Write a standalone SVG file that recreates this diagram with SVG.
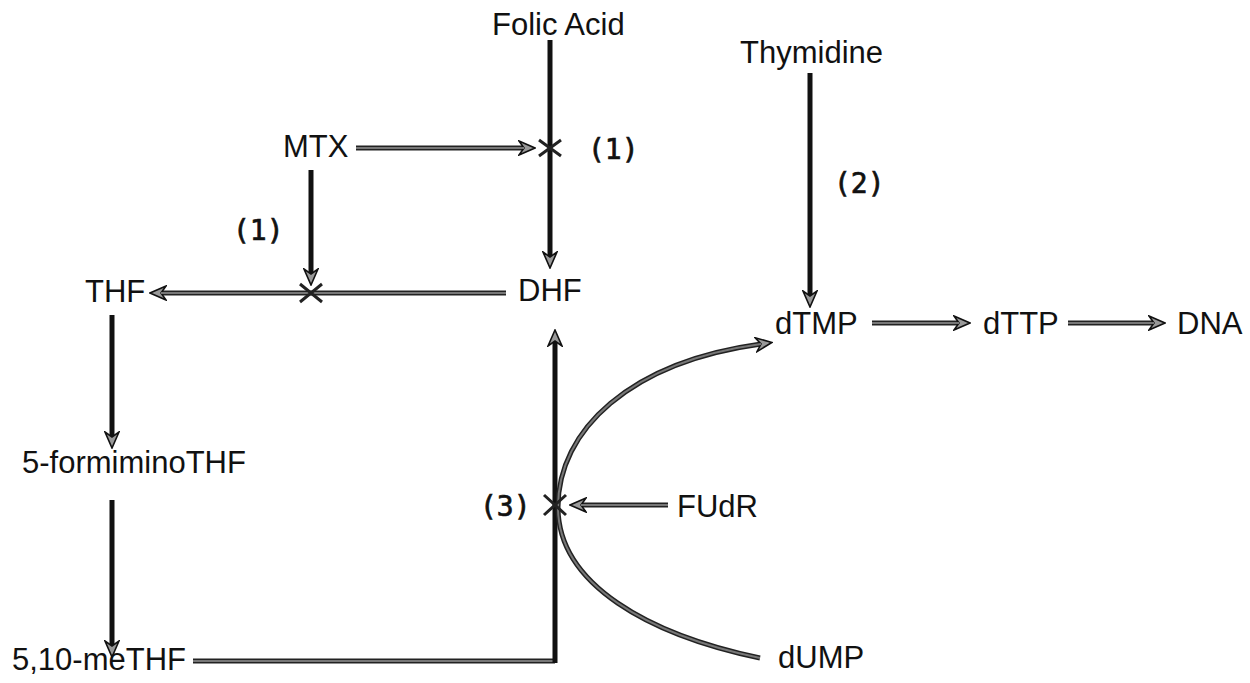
<svg xmlns="http://www.w3.org/2000/svg" width="1250" height="683" viewBox="0 0 1250 683">
<style>
.lbl{font-family:"Liberation Sans",Arial,sans-serif;font-size:31px;fill:#111}
.num{font-family:"DejaVu Sans Mono","Liberation Mono",monospace;font-size:28px;fill:#111;stroke:#111;stroke-width:0.7}
.blk{fill:none;stroke:#111;stroke-width:5}
.gout{fill:none;stroke:#222;stroke-width:5}
.gin{fill:none;stroke:#777;stroke-width:2}
.x{stroke:#222;stroke-width:3;fill:none}
</style>
<defs>
<marker id="ah" markerUnits="userSpaceOnUse" viewBox="0 0 18 16" markerWidth="18" markerHeight="16" refX="6" refY="8" orient="auto">
<path d="M1,1 L17,8 L1,15 L6,8 Z" fill="#999" stroke="#111" stroke-width="1.6" stroke-linejoin="miter"/>
</marker>
</defs>
<g id="connectors">
<path class="blk" d="M550,40 V257" marker-end="url(#ah)"/>
<path class="blk" d="M810,73 V296" marker-end="url(#ah)"/>
<path class="blk" d="M311,170 V274" marker-end="url(#ah)"/>
<path class="blk" d="M112,315 V437" marker-end="url(#ah)"/>
<path class="blk" d="M112,500 V646" marker-end="url(#ah)"/>
<path class="gout" d="M193,661 H555"/>
<path class="gin" d="M193,661 H553"/>
<path class="blk" d="M555,663 V341" marker-end="url(#ah)"/>
<path class="gout" d="M356,148 H524" marker-end="url(#ah)"/>
<path class="gin" d="M356,148 H524"/>
<path class="gout" d="M506,293 H161" marker-end="url(#ah)"/>
<path class="gin" d="M506,293 H161"/>
<path class="gout" d="M668,505 H581" marker-end="url(#ah)"/>
<path class="gin" d="M668,505 H581"/>
<path class="gout" d="M872,323 H959" marker-end="url(#ah)"/>
<path class="gin" d="M872,323 H959"/>
<path class="gout" d="M1068,323 H1154" marker-end="url(#ah)"/>
<path class="gin" d="M1068,323 H1154"/>
<path class="gout" d="M760,658 C650,635 558,585 558,507 C558,430 630,362 761,344" marker-end="url(#ah)"/>
<path class="gin" d="M760,658 C650,635 558,585 558,507 C558,430 630,362 761,344"/>
<path class="x" d="M539,140 L561,156 M539,156 L561,140"/>
<path class="x" d="M300,284 L322,302 M300,302 L322,284"/>
<path class="x" d="M544,495 L566,515 M544,515 L566,495"/>
</g>
<g id="folic"><text class="lbl" x="492" y="35">Folic Acid</text></g>
<g id="thymidine"><text class="lbl" x="740" y="63">Thymidine</text></g>
<g id="mtx"><text class="lbl" x="283" y="157">MTX</text></g>
<g id="l1a"><text class="num" x="588" y="159">(1)</text></g>
<g id="l1b"><text class="num" x="233" y="240">(1)</text></g>
<g id="l2"><text class="num" x="834" y="193">(2)</text></g>
<g id="thf"><text class="lbl" x="85" y="302">THF</text></g>
<g id="dhf"><text class="lbl" x="518" y="301">DHF</text></g>
<g id="dtmp"><text class="lbl" x="775" y="334">dTMP</text></g>
<g id="dttp"><text class="lbl" x="983" y="334">dTTP</text></g>
<g id="dna"><text class="lbl" x="1177" y="334">DNA</text></g>
<g id="formimino"><text class="lbl" x="22" y="473">5-formiminoTHF</text></g>
<g id="l3"><text class="num" x="480" y="516">(3)</text></g>
<g id="fudr"><text class="lbl" x="677" y="517">FUdR</text></g>
<g id="methf"><text class="lbl" x="12" y="670">5,10-meTHF</text></g>
<g id="dump"><text class="lbl" x="778" y="668">dUMP</text></g>
</svg>
